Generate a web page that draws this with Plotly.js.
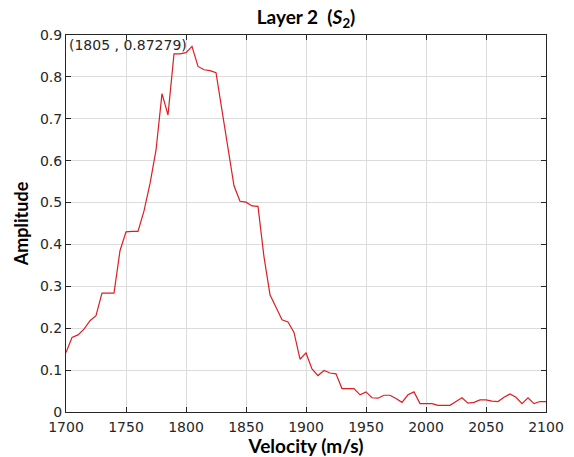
<!DOCTYPE html>
<html>
<head>
<meta charset="utf-8">
<script src="https://cdn.plot.ly/plotly-3.0.1.min.js"></script>
<style>html,body{margin:0;padding:0;background:#fff;}#chart{width:574px;height:457px;}</style>
</head>
<body>
<div id="chart"></div>
<script>
const velocity = [1700,1705,1710,1715,1720,1725,1730,1735,1740,1745,
  1750,1755,1760,1765,1770,1775,1780,1785,1790,1795,
  1800,1805,1810,1815,1820,1825,1830,1835,1840,1845,
  1850,1855,1860,1865,1870,1875,1880,1885,1890,1895,
  1900,1905,1910,1915,1920,1925,1930,1935,1940,1945,
  1950,1955,1960,1965,1970,1975,1980,1985,1990,1995,
  2000,2005,2010,2015,2020,2025,2030,2035,2040,2045,
  2050,2055,2060,2065,2070,2075,2080,2085,2090,2095,2100];
const amplitude = [0.142,0.178,0.184,0.198,0.218,0.230,0.284,0.284,0.284,0.385,
  0.430,0.431,0.431,0.480,0.545,0.625,0.760,0.709,0.855,0.855,
  0.858,0.87279,0.825,0.817,0.815,0.810,0.720,0.620,0.540,0.503,
  0.501,0.492,0.491,0.370,0.280,0.250,0.220,0.215,0.190,0.126,
  0.141,0.103,0.087,0.099,0.093,0.091,0.056,0.056,0.056,0.041,
  0.048,0.034,0.033,0.040,0.040,0.032,0.023,0.041,0.048,0.020,
  0.020,0.020,0.016,0.016,0.016,0.025,0.034,0.021,0.023,0.029,
  0.029,0.026,0.025,0.035,0.043,0.035,0.020,0.034,0.020,0.025,0.025];
const xTicks = [1700,1750,1800,1850,1900,1950,2000,2050,2100];
const yTicks = [0,0.1,0.2,0.3,0.4,0.5,0.6,0.7,0.8,0.9];
const yTickText = ['0','0.1','0.2','0.3','0.4','0.5','0.6','0.7','0.8','0.9'];
const peakLabel = '(1805 , 0.87279)';

const axisCommon = {
  showline: true, linecolor: '#262626', linewidth: 1, mirror: 'ticks',
  ticks: 'inside', ticklen: 5, tickcolor: '#262626', tickwidth: 1,
  showgrid: true, gridcolor: '#dcdcdc', gridwidth: 1, zeroline: false,
  tickfont: {family: 'DejaVu Sans', size: 14, color: '#262626'}
};

const trace = {
  x: velocity, y: amplitude, type: 'scatter', mode: 'lines',
  line: {color: '#dc1e23', width: 1.2}, hoverinfo: 'skip'
};

const layout = {
  width: 574, height: 457,
  margin: {l: 66, r: 28, t: 35, b: 45},
  paper_bgcolor: '#fff', plot_bgcolor: '#fff',
  showlegend: false,
  title: {
    text: 'Layer 2  (<i>S</i><sub>2</sub>)',
    font: {family: 'Lato', size: 19, color: '#000', weight: 'bold'},
    x: 0.5, xref: 'paper', y: 1 - 17/457, yref: 'container', yanchor: 'middle'
  },
  xaxis: Object.assign({}, axisCommon, {
    range: [1700, 2100], tickvals: xTicks, ticklabelstandoff: 2,
    title: {text: 'Velocity (m/s)', font: {family: 'Lato', size: 19, color: '#000', weight: 'bold'}, standoff: 0}
  }),
  yaxis: Object.assign({}, axisCommon, {
    range: [0, 0.9], tickvals: yTicks, ticktext: yTickText,
    title: {text: 'Amplitude', font: {family: 'Lato', size: 18, color: '#000', weight: 'bold'}, standoff: 6}
  }),
  annotations: [{
    text: peakLabel, xref: 'paper', yref: 'paper', x: 0, y: 1,
    xanchor: 'left', yanchor: 'top', xshift: 1, yshift: 0, showarrow: false,
    font: {family: 'DejaVu Sans', size: 14, color: '#262626'}
  }]
};

Plotly.newPlot('chart', [trace], layout, {staticPlot: true, displayModeBar: false});
</script>
</body>
</html>
